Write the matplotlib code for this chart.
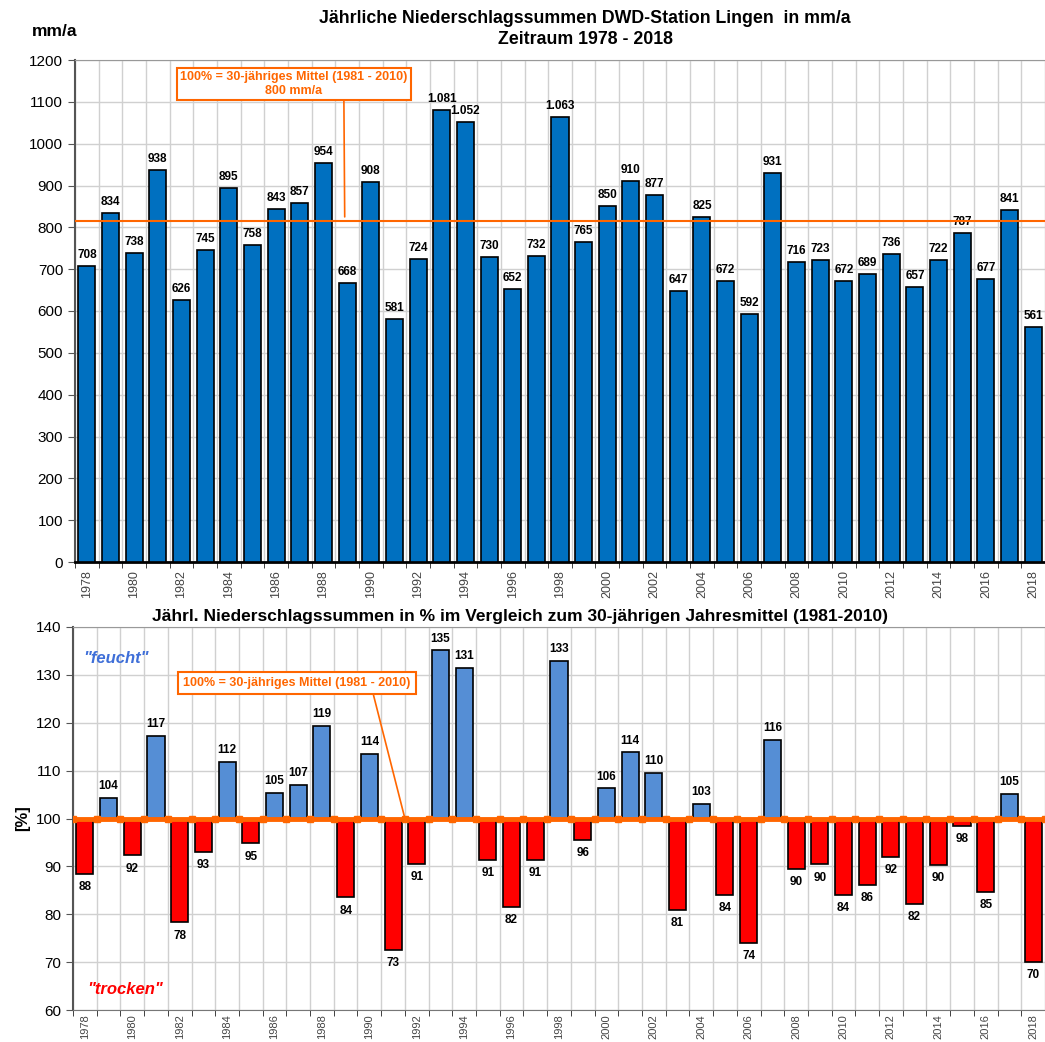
import numpy as np
import matplotlib.pyplot as plt

plt.rcParams['font.family'] = ['Liberation Sans', 'DejaVu Sans']

years = list(range(1978, 2019))
mm = [708, 834, 738, 938, 626, 745, 895, 758, 843, 857, 954, 668, 908, 581, 724,
      1081, 1052, 730, 652, 732, 1063, 765, 850, 910, 877, 647, 825, 672, 592, 931,
      716, 723, 672, 689, 736, 657, 722, 787, 677, 841, 561]
pct = [88.5, 104.3, 92.3, 117.3, 78.3, 93.1, 111.9, 94.8, 105.4, 107.1, 119.3, 83.5,
       113.5, 72.6, 90.6, 135.1, 131.4, 91.3, 81.5, 91.4, 132.9, 95.6, 106.3, 113.8,
       109.6, 80.9, 103.1, 84.0, 74.0, 116.4, 89.5, 90.4, 84.0, 86.1, 92.0, 82.1,
       90.3, 98.4, 84.6, 105.1, 70.1]
mean_line = 815
pct_ref = 100

orange = '#FF6600'
grid_c = '#D0D0D0'
x = np.arange(len(years))
edges = np.arange(len(years) + 1) - 0.5

fig = plt.figure(figsize=(10.45, 10.42), dpi=100)
ax1 = fig.add_axes([75/1045, 1 - 562/1042, 970/1045, 502/1042])
ax2 = fig.add_axes([73/1045, 1 - 1010/1042, 972/1045, 383/1042])


def style_axes(ax, fs=9, pad=6):
    ax.set_xlim(-0.5, len(years) - 0.5)
    ax.set_xticks(x[::2])
    ax.set_xticklabels([str(y) for y in years[::2]], rotation=90, fontsize=fs, color='#444444')
    ax.set_xticks(edges, minor=True)
    ax.grid(True, which='minor', axis='x', color=grid_c, lw=1)
    ax.grid(True, which='major', axis='y', color=grid_c, lw=1)
    ax.tick_params(axis='x', which='major', length=0, pad=pad)
    ax.tick_params(axis='x', which='minor', length=4, color='#222222')
    ax.tick_params(axis='y', labelsize=11, length=5, color='#555555')
    ax.set_axisbelow(True)
    ax.spines['top'].set_color('#999999')
    ax.spines['right'].set_visible(False)
    ax.spines['left'].set_color('#555555')
    ax.spines['left'].set_linewidth(1.5)


# top chart
ax1.bar(x, mm, width=0.72, color='#0070C0', edgecolor='black', lw=1.2, zorder=3)
ax1.set_ylim(0, 1200)
ax1.set_yticks(range(0, 1201, 100))
style_axes(ax1)
ax1.spines['bottom'].set_linewidth(2)
ax1.spines['bottom'].set_color('black')
ax1.axhline(mean_line, color=orange, lw=1.5, zorder=4)
for xi, v in zip(x, mm):
    lab = f'{v:,}'.replace(',', '.')
    ax1.text(xi, v + 12, lab, ha='center', va='bottom', fontsize=8.5, fontweight='bold')
fig.text(32/1045, 1 - 31/1042, 'mm/a', fontsize=12.5, fontweight='bold', ha='left', va='center')
fig.text(585/1045, 1 - 29/1042, 'Jährliche Niederschlagssummen DWD-Station Lingen  in mm/a\nZeitraum 1978 - 2018',
         ha='center', va='center', fontsize=12.8, fontweight='bold', linespacing=1.25)
ax1.annotate('100% = 30-jähriges Mittel (1981 - 2010)\n800 mm/a', xy=(10.9, 825), xytext=(8.75, 1143),
             ha='center', va='center', fontsize=9, fontweight='bold', color=orange, linespacing=1.15,
             bbox=dict(boxstyle='square,pad=0.25', fc='white', ec=orange, lw=1.5),
             arrowprops=dict(arrowstyle='-', color=orange, lw=1.2, shrinkA=0, shrinkB=0,
                             relpos=(0.72, 0)), zorder=6)

# bottom chart
colors = ['#558ED5' if p >= pct_ref else '#FF0000' for p in pct]
heights = [p - pct_ref for p in pct]
ax2.bar(x, heights, bottom=pct_ref, width=0.72, color=colors, edgecolor='black', lw=1.2, zorder=3)
ax2.set_ylim(60, 140)
ax2.set_yticks(range(60, 141, 10))
style_axes(ax2, fs=8, pad=3)
ax2.spines['bottom'].set_color('#777777')
ax2.plot(edges, [pct_ref] * len(edges), color=orange, lw=3.5, marker='s', ms=5, zorder=5)
for xi, p in zip(x, pct):
    if p >= pct_ref:
        ax2.text(xi, p + 1.2, f'{p:.0f}', ha='center', va='bottom', fontsize=8.5, fontweight='bold')
    else:
        ax2.text(xi, p - 1.5, f'{p:.0f}', ha='center', va='top', fontsize=8.5, fontweight='bold')
ax2.set_ylabel('[%]', fontsize=12, fontweight='bold', labelpad=4)
fig.text(520/1045, 1 - 617/1042,
         'Jährl. Niederschlagssummen in % im Vergleich zum 30-jährigen Jahresmittel (1981-2010)',
         ha='center', va='center', fontsize=12.5, fontweight='bold')
ax2.text(1.3, 133.5, '"feucht"', color='#3F6FD8', fontsize=12, fontweight='bold', style='italic',
         ha='center', va='center')
ax2.text(1.7, 64.3, '"trocken"', color='#FF0000', fontsize=12, fontweight='bold', style='italic',
         ha='center', va='center')
ax2.annotate('100% = 30-jähriges Mittel (1981 - 2010)', xy=(13.5, 100), xytext=(8.95, 128.2),
             ha='center', va='center', fontsize=9, fontweight='bold', color=orange,
             bbox=dict(boxstyle='square,pad=0.4', fc='white', ec=orange, lw=1.5),
             arrowprops=dict(arrowstyle='-', color=orange, lw=1.2, shrinkA=0, shrinkB=0,
                             relpos=(0.83, 0)), zorder=6)

fig.savefig('out.png', dpi=100, facecolor='white')
